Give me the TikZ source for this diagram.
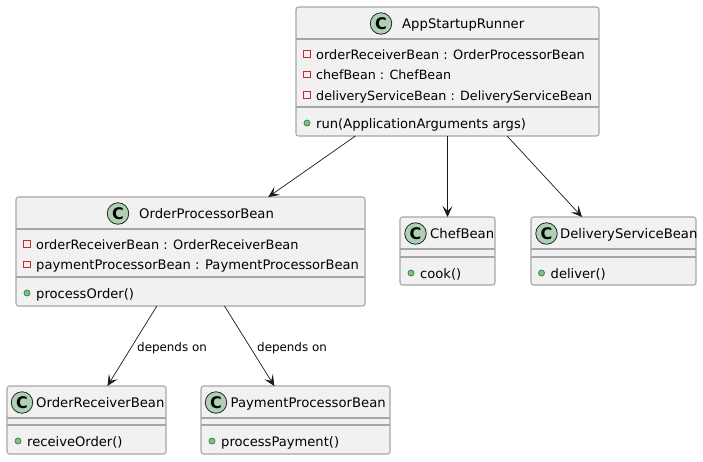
\documentclass[tikz,border=0pt]{standalone}
\usepackage{fontspec}
\setmainfont{DejaVu Sans}
\usetikzlibrary{arrows.meta}
\definecolor{boxfill}{HTML}{F1F1F1}
\definecolor{boxline}{HTML}{A6A6A6}
\definecolor{spotfill}{HTML}{ADD1B2}
\definecolor{privred}{HTML}{C82930}
\definecolor{privfill}{HTML}{F1F1F1}
\definecolor{pubgreen}{HTML}{38864B}
\definecolor{pubfill}{HTML}{84BE84}
\tikzset{
    classbox/.style={draw=boxline, fill=boxfill, line width=1.05pt, rounded corners=2.5pt, inner sep=0pt, outer sep=0pt},
    divider/.style={draw=boxline, line width=1.05pt},
    spot/.style={circle, draw=black!85, fill=spotfill, line width=0.8pt, minimum size=21.5pt, inner sep=0pt, font=\fontsize{16}{16}\selectfont\bfseries},
    title/.style={anchor=base west, inner sep=0pt, font=\fontsize{13.2}{15}\selectfont},
    member/.style={anchor=base west, inner sep=0pt, font=\fontsize{13.1}{15}\selectfont},
    snug/.style={font=\fontsize{12.9}{15}\selectfont},
    narrow/.style={font=\fontsize{12.7}{15}\selectfont},
    privmark/.style={rectangle, draw=privred, fill=privfill, line width=0.8pt, minimum size=6.5pt, inner sep=0pt},
    pubmark/.style={circle, draw=pubgreen, fill=pubfill, line width=0.8pt, minimum size=6pt, inner sep=0pt},
    dep/.style={-{Stealth[length=11pt,width=10pt,inset=5pt]}, black!90, line width=0.7pt},
    deplabel/.style={anchor=base west, inner sep=0pt, font=\fontsize{11.9}{13}\selectfont},
}
\begin{document}
\begin{tikzpicture}[x=1pt,y=-1pt]
    \useasboundingbox (0,0) rectangle (703,461);

    % --- class boxes ---
    \node[classbox, minimum width=303pt, minimum height=129pt] (runner) at (447.5,71.5) {};
    \node[classbox, minimum width=349pt, minimum height=109pt] (order) at (190.5,251.5) {};
    \node[classbox, minimum width=95pt, minimum height=68pt] (chef) at (447.5,251) {};
    \node[classbox, minimum width=165pt, minimum height=68pt] (delivery) at (613.5,251) {};
    \node[classbox, minimum width=159pt, minimum height=68pt] (receiver) at (86.5,420) {};
    \node[classbox, minimum width=189pt, minimum height=68pt] (payment) at (295.5,420) {};

    % --- connectors ---
    \draw[dep] (runner) -- (order);
    \draw[dep] (runner) -- (chef);
    \draw[dep] (runner) -- (delivery);
    \draw[dep] (order) -- (receiver);
    \draw[dep] (order) -- (payment);
    \node[deplabel] (dep1) at (137,351) {depends on};
    \node[deplabel] (dep2) at (257,351) {depends on};

    % --- dividers ---
    \foreach \cls/\y in {runner/39, runner/107, order/229, order/277, chef/249, chef/257,
                         delivery/249, delivery/257, receiver/418, receiver/425,
                         payment/418, payment/425} {
        \draw[divider] (\cls.west |- 0,\y) -- (\cls.east |- 0,\y);
    }

    % --- AppStartupRunner ---
    \node[spot] (runnerC) at (381,23.5) {C};
    \node[title] (runnerT) at (402,28.5) {AppStartupRunner};
    \node[privmark] (runnerM1) at (307,54) {};
    \node[member, snug] (runnerF1) at (316,59) {orderReceiverBean : OrderProcessorBean};
    \node[privmark] (runnerM2) at (307,74.5) {};
    \node[member, narrow] (runnerF2) at (316,79.5) {chefBean : ChefBean};
    \node[privmark] (runnerM3) at (307,95) {};
    \node[member, narrow] (runnerF3) at (316,100) {deliveryServiceBean : DeliveryServiceBean};
    \node[pubmark] (runnerM4) at (307,123) {};
    \node[member] (runnerF4) at (316,128) {run(ApplicationArguments args)};

    % --- OrderProcessorBean ---
    \node[spot] (orderC) at (118,213.5) {C};
    \node[title] (orderT) at (139,218.5) {OrderProcessorBean};
    \node[privmark] (orderM1) at (27,244) {};
    \node[member, snug] (orderF1) at (36,249) {orderReceiverBean : OrderReceiverBean};
    \node[privmark] (orderM2) at (27,264.5) {};
    \node[member] (orderF2) at (36,269.5) {paymentProcessorBean : PaymentProcessorBean};
    \node[pubmark] (orderM3) at (27,293) {};
    \node[member] (orderF3) at (36,298) {processOrder()};

    % --- ChefBean ---
    \node[spot] (chefC) at (415.5,233.5) {C};
    \node[title] (chefT) at (430,238.5) {ChefBean};
    \node[pubmark] (chefM) at (411,273) {};
    \node[member] (chefF) at (420,278) {cook()};

    % --- DeliveryServiceBean ---
    \node[spot] (deliveryC) at (546.5,233.5) {C};
    \node[title] (deliveryT) at (560,238.5) {DeliveryServiceBean};
    \node[pubmark] (deliveryM) at (541.5,273) {};
    \node[member] (deliveryF) at (550.5,278) {deliver()};

    % --- OrderReceiverBean ---
    \node[spot] (receiverC) at (22,402.5) {C};
    \node[title] (receiverT) at (36,407.5) {OrderReceiverBean};
    \node[pubmark] (receiverM) at (18,441) {};
    \node[member] (receiverF) at (27,446) {receiveOrder()};

    % --- PaymentProcessorBean ---
    \node[spot] (paymentC) at (216,402.5) {C};
    \node[title] (paymentT) at (230.5,407.5) {PaymentProcessorBean};
    \node[pubmark] (paymentM) at (212,441) {};
    \node[member] (paymentF) at (221,446) {processPayment()};
\end{tikzpicture}
\end{document}
